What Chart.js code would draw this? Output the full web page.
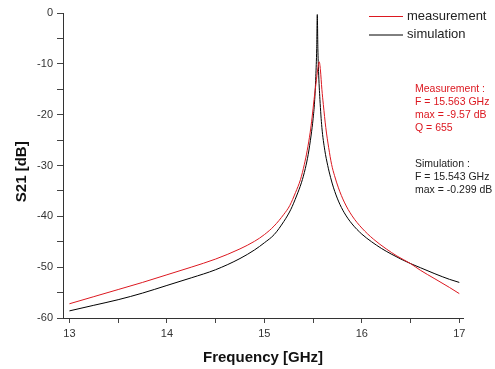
<!DOCTYPE html>
<html>
<head>
<meta charset="utf-8">
<title>S21 resonance</title>
<script src="https://cdn.jsdelivr.net/npm/chart.js@4.4.1/dist/chart.umd.min.js"></script>
<style>
    html, body { margin: 0; padding: 0; background: #fff; }
    canvas { display: block; }
</style>
</head>
<body>
<canvas id="s21Chart" width="495" height="369"></canvas>
<script>
// values (GHz / dB)
const measFreq = [13.0, 13.25, 13.5, 13.75, 14.0, 14.25, 14.5, 14.75, 14.9, 15.0, 15.1, 15.2, 15.26, 15.32, 15.37, 15.41, 15.44, 15.47, 15.49, 15.51, 15.53, 15.548, 15.563, 15.575, 15.59, 15.605, 15.63, 15.66, 15.69, 15.72, 15.76, 15.82, 15.9, 16.0, 16.12, 16.25, 16.36, 16.5, 16.6, 16.75, 16.9, 17.0];
const measDb = [-57.2, -55.8, -54.4, -53.0, -51.5, -50.0, -48.4, -46.4, -44.9, -43.6, -41.9, -39.6, -37.9, -35.3, -32.8, -29.8, -27.0, -23.5, -20.5, -17.0, -13.8, -11.0, -9.6, -11.2, -15.0, -18.0, -22.5, -26.5, -29.8, -32.0, -34.4, -37.2, -39.9, -42.3, -44.5, -46.4, -47.8, -49.3, -50.6, -52.3, -54.0, -55.2];

const simFreq = [13.0, 13.25, 13.5, 13.75, 14.0, 14.25, 14.5, 14.75, 14.9, 15.0, 15.1, 15.2, 15.27, 15.33, 15.38, 15.42, 15.45, 15.48, 15.50, 15.515, 15.528, 15.537, 15.543, 15.549, 15.556, 15.57, 15.59, 15.62, 15.65, 15.68, 15.71, 15.76, 15.82, 15.9, 16.0, 16.1, 16.2, 16.3, 16.4, 16.5, 16.6, 16.75, 16.9, 17.0];
const simDb = [-58.6, -57.5, -56.4, -55.1, -53.6, -52.1, -50.5, -48.3, -46.6, -45.2, -43.6, -41.0, -38.7, -36.0, -33.4, -30.6, -27.8, -24.0, -20.8, -17.5, -12.5, -7.0, -0.3, -7.0, -11.5, -17.0, -22.5, -27.0, -30.0, -32.4, -34.4, -37.0, -39.3, -41.5, -43.5, -45.0, -46.3, -47.4, -48.4, -49.3, -50.1, -51.3, -52.4, -53.0];

const xTicks = [13, 13.5, 14, 14.5, 15, 15.5, 16, 16.5, 17];
const yTicks = [-60, -55, -50, -45, -40, -35, -30, -25, -20, -15, -10, -5, 0];

const measNotes = ["Measurement :", "F = 15.563 GHz", "max = -9.57 dB", "Q = 655"];
const simNotes = ["Simulation :", "F = 15.543 GHz", "max = -0.299 dB"];

const RED = "#dc1820";
const BLACK = "#000000";
const TEXT = "#333333";

function toPoints(xs, ys) {
    return xs.map((x, i) => ({ x: x, y: ys[i] }));
}

// legend in the top right corner and the text notes
const notesPlugin = {
    id: "notes",
    afterDatasetsDraw(chart) {
        const ctx = chart.ctx;
        ctx.save();

        ctx.font = "13px 'Liberation Sans', Arial, sans-serif";
        ctx.textBaseline = "middle";
        ctx.textAlign = "left";
        chart.data.datasets.forEach((ds, i) => {
            const y = 16 + i * 18.5;
            ctx.strokeStyle = ds.borderColor;
            ctx.lineWidth = 1;
            ctx.beginPath();
            ctx.moveTo(369, y + 0.5);
            ctx.lineTo(403, y + 0.5);
            ctx.stroke();
            ctx.fillStyle = "#222";
            ctx.fillText(ds.label, 407, y);
        });

        ctx.font = "10.5px 'Liberation Sans', Arial, sans-serif";
        ctx.fillStyle = RED;
        measNotes.forEach((t, i) => ctx.fillText(t, 415, 89 + i * 13.2));
        ctx.fillStyle = "#222";
        simNotes.forEach((t, i) => ctx.fillText(t, 415, 164 + i * 13.3));

        ctx.restore();
    }
};

new Chart(document.getElementById("s21Chart"), {
    type: "line",
    data: {
        datasets: [
            {
                label: "measurement",
                data: toPoints(measFreq, measDb),
                borderColor: RED,
                borderWidth: 1,
                pointRadius: 0,
                cubicInterpolationMode: "monotone",
                fill: false
            },
            {
                label: "simulation",
                data: toPoints(simFreq, simDb),
                borderColor: BLACK,
                borderWidth: 1,
                pointRadius: 0,
                cubicInterpolationMode: "monotone",
                fill: false
            }
        ]
    },
    options: {
        responsive: false,
        animation: false,
        devicePixelRatio: 1,
        layout: {
            padding: { top: 13, right: 32, bottom: 0, left: 0 }
        },
        scales: {
            x: {
                type: "linear",
                min: 12.934,
                max: 17.038,
                afterBuildTicks: (scale) => {
                    scale.ticks = xTicks.map(v => ({ value: v }));
                },
                afterFit: (scale) => {
                    scale.height = 51;
                },
                grid: {
                    drawOnChartArea: false,
                    drawTicks: true,
                    tickLength: 5,
                    tickColor: "#444"
                },
                border: { display: true, color: "#333", width: 1 },
                ticks: {
                    color: TEXT,
                    padding: 4,
                    maxRotation: 0,
                    autoSkip: false,
                    font: { family: "'Liberation Sans', Arial, sans-serif", size: 11 },
                    callback: (value) => Number.isInteger(value) ? String(value) : ""
                },
                title: {
                    display: true,
                    text: "Frequency [GHz]",
                    color: "#111",
                    padding: { top: 0, bottom: 2 },
                    font: { family: "'Liberation Sans', Arial, sans-serif", size: 15, weight: "bold" }
                }
            },
            y: {
                type: "linear",
                min: -60,
                max: 0,
                afterBuildTicks: (scale) => {
                    scale.ticks = yTicks.map(v => ({ value: v }));
                },
                afterFit: (scale) => {
                    scale.width = 63;
                },
                grid: {
                    drawOnChartArea: false,
                    drawTicks: true,
                    tickLength: 6,
                    tickColor: "#444"
                },
                border: { display: true, color: "#333", width: 1 },
                ticks: {
                    color: TEXT,
                    padding: 4,
                    autoSkip: false,
                    font: { family: "'Liberation Sans', Arial, sans-serif", size: 11 },
                    callback: (value) => value % 10 === 0 ? String(value) : ""
                },
                title: {
                    display: true,
                    // trailing spaces push the label a little below the axis middle, as in the source
                    text: "S21 [dB]   ",
                    color: "#111",
                    padding: { top: 13, bottom: 0 },
                    font: { family: "'Liberation Sans', Arial, sans-serif", size: 15, weight: "bold" }
                }
            }
        },
        plugins: {
            legend: { display: false },
            tooltip: { enabled: false }
        }
    },
    plugins: [notesPlugin]
});
</script>
</body>
</html>
